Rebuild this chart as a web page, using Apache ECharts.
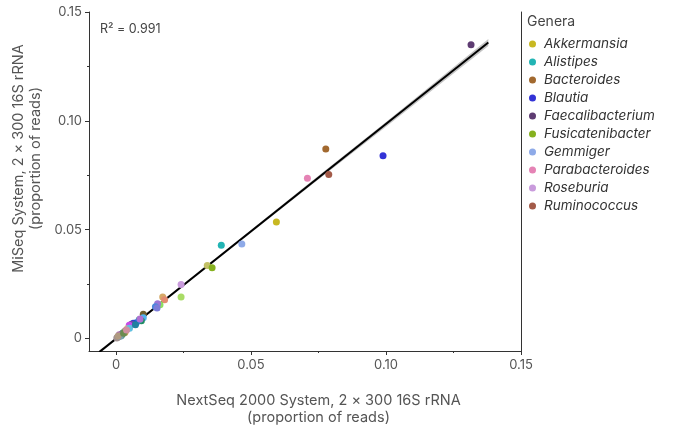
<!DOCTYPE html>
<html>
<head>
<meta charset="utf-8">
<script src="https://cdn.jsdelivr.net/npm/echarts@6/dist/echarts.min.js"></script>
<style>html,body{margin:0;padding:0;background:#fff}#c{width:673px;height:430px}</style>
</head>
<body>
<div id="c"></div>
<script>
// ---- data ----
var genera = ['Akkermansia','Alistipes','Bacteroides','Blautia','Faecalibacterium','Fusicatenibacter','Gemmiger','Parabacteroides','Roseburia','Ruminococcus'];
var generaColors = ['#c8b822','#22b4b4','#a2692f','#3333d6','#5e3c72','#86b11f','#8eaae8','#e583b5','#c99bdc','#a35a48'];
var generaX = [0.0594, 0.0390, 0.0777, 0.0989, 0.1315, 0.0356, 0.0466, 0.0709, 0.0241, 0.0788];
var generaY = [0.0536, 0.0429, 0.0871, 0.0840, 0.1350, 0.0325, 0.0435, 0.0737, 0.0248, 0.0754];

var otherX = [0.0338,0.0241,0.0173,0.0180,0.0163,0.0154,0.0146,0.0152,0.0101,0.0101,0.0094,0.0086,0.0075,0.0064,0.0057,0.0049,0.0042,0.0035,0.0030,0.0026,0.0022,0.0018,0.0014,0.0010,0.0006,0.0003,0.0020,0.0033,0.0050,0.0012,0.0072,0.0089,0.0016,0.0008,0.0028,0.0039];
var otherY = [0.0336,0.0191,0.0191,0.0178,0.0155,0.0160,0.0146,0.0140,0.0112,0.0096,0.0082,0.0086,0.0073,0.0071,0.0066,0.0061,0.0045,0.0036,0.0030,0.0026,0.0022,0.0018,0.0014,0.0010,0.0006,0.0003,0.0014,0.0028,0.0048,0.0018,0.0063,0.0090,0.0011,0.0012,0.0024,0.0040];
var otherColors = ['#c2c066','#a9dc66','#d6aa68','#e48c72','#8ee062','#9c76d6','#4c88dc','#7c7cd8','#70602f','#52b4f0','#208c64','#3ca3a0','#3070e8','#2848d0','#7048a8','#c84ae8','#d8ba7a','#c86c5c','#60a8a0','#90b840','#5060c0','#40a060','#a08070','#8090a0','#988878','#a09090','#308870','#c0a050','#60c0e0','#b070b0','#2080a0','#b070d0','#7aa0b0','#b09a80','#6c8c50','#d090a0'];

var fitX = [-0.0062, 0.1379];
var fitY = [-0.0062, 0.1360];
var bandX = [-0.0062, 0.010, 0.040, 0.070, 0.100, 0.1379];
var bandLow = [-0.0069, 0.0093, 0.0389, 0.0682, 0.0973, 0.1344];
var bandHigh = [-0.0055, 0.0101, 0.0399, 0.0698, 0.0995, 0.1376];

var xMajorTicks = [0, 0.05, 0.10, 0.15];
var xMinorTicks = [0.025, 0.075, 0.125];
var yMajorTicks = [0, 0.05, 0.10, 0.15];
var yMinorTicks = [0.025, 0.075, 0.125];

// ---- chart ----
var FONT = 'Inter, "Noto Sans", sans-serif';
function fmt(v){ return v === 0 ? '0' : v.toFixed(2); }

var series = [];
var bandPts = [];
for (var i = 0; i < bandX.length; i++) bandPts.push([bandX[i], bandLow[i], bandHigh[i]]);
series.push({
  type: 'custom', name: 'band', z: 1, silent: true,
  data: [0],
  renderItem: function(params, api){
    var pts = [];
    for (var i = 0; i < bandPts.length; i++) pts.push(api.coord([bandPts[i][0], bandPts[i][1]]));
    for (var j = bandPts.length - 1; j >= 0; j--) pts.push(api.coord([bandPts[j][0], bandPts[j][2]]));
    return { type: 'polygon', shape: { points: pts }, style: { fill: '#c4c4c4' },
      clipPath: { type: 'rect', shape: { x: params.coordSys.x, y: params.coordSys.y, width: params.coordSys.width, height: params.coordSys.height } } };
  }
});
series.push({
  type: 'line', name: 'fit', z: 2, silent: true, symbol: 'none', clip: true,
  data: fitX.map(function(x, i){ return [x, fitY[i]]; }),
  lineStyle: { color: '#000', width: 2 }
});
var others = otherX.map(function(x, i){ return { value: [x, otherY[i]], itemStyle: { color: otherColors[i], opacity: 1 } }; });
series.push({ type: 'scatter', name: 'other', z: 3, symbolSize: 7, data: others });
genera.forEach(function(g, i){
  series.push({ type: 'scatter', name: g, z: 4, symbolSize: 7, itemStyle: { color: generaColors[i], opacity: 1 }, data: [[generaX[i], generaY[i]]] });
});

var chart = echarts.init(document.getElementById('c'), null, { renderer: 'canvas' });
chart.setOption({
  animation: false,
  backgroundColor: '#fff',
  grid: { left: 89, right: 152, top: 12, bottom: 79, containLabel: false, outerBoundsMode: 'none' },
  xAxis: [{
    type: 'value', min: -0.01, max: 0.15,
    name: 'NextSeq 2000 System, 2 × 300 16S rRNA\n(proportion of reads)',
    nameLocation: 'middle', nameGap: 41,
    nameTextStyle: { fontFamily: FONT, fontSize: 14.5, color: '#555', lineHeight: 17, padding: [0, 0, 0, 27] },
    splitLine: { show: false },
    axisLine: { show: true, onZero: false, lineStyle: { color: '#333', width: 1 } },
    axisTick: { show: true, length: 4, customValues: xMajorTicks, lineStyle: { color: '#333' } },
    axisLabel: { customValues: xMajorTicks, formatter: fmt, fontFamily: FONT, fontSize: 13, color: '#555', margin: 8 }
  }, {
    type: 'value', min: -0.01, max: 0.15, position: 'bottom',
    splitLine: { show: false }, axisLine: { show: false, onZero: false },
    axisTick: { show: true, length: 2, customValues: xMinorTicks, lineStyle: { color: '#333' } },
    axisLabel: { show: false }
  }],
  yAxis: [{
    type: 'value', min: -0.0057, max: 0.15, position: 'left',
    name: 'MiSeq System, 2 × 300 16S rRNA\n(proportion of reads)',
    nameLocation: 'middle', nameGap: 44,
    nameTextStyle: { fontFamily: FONT, fontSize: 14.5, color: '#555', lineHeight: 17, padding: [0, 0, 0, 46] },
    splitLine: { show: false },
    axisLine: { show: true, onZero: false, lineStyle: { color: '#333', width: 1 } },
    axisTick: { show: true, length: 4, customValues: yMajorTicks, lineStyle: { color: '#333' } },
    axisLabel: { customValues: yMajorTicks, formatter: fmt, fontFamily: FONT, fontSize: 13, color: '#555', margin: 7 }
  }, {
    type: 'value', min: -0.0057, max: 0.15, position: 'left',
    splitLine: { show: false }, axisLine: { show: false, onZero: false },
    axisTick: { show: true, length: 2, customValues: yMinorTicks, lineStyle: { color: '#333' } },
    axisLabel: { show: false }
  }, {
    type: 'value', min: -0.0057, max: 0.15, position: 'right',
    splitLine: { show: false },
    axisLine: { show: true, onZero: false, lineStyle: { color: '#333', width: 1 } },
    axisTick: { show: false }, axisLabel: { show: false }
  }],
  legend: {
    data: genera, orient: 'vertical', left: 524, top: 32,
    icon: 'circle', itemWidth: 13, itemHeight: 7, itemGap: 4,
    textStyle: { fontFamily: FONT, fontSize: 13.5, fontStyle: 'italic', color: '#333', lineHeight: 14 }
  },
  graphic: [
    { type: 'text', left: 527, top: 15, style: { text: 'Genera', fontFamily: FONT, fontSize: 14, fill: '#444' } },
    { type: 'text', left: 100, top: 23, style: { text: 'R² = 0.991', fontFamily: FONT, fontSize: 12.5, fill: '#444' } }
  ],
  series: series
});
</script>
</body>
</html>
